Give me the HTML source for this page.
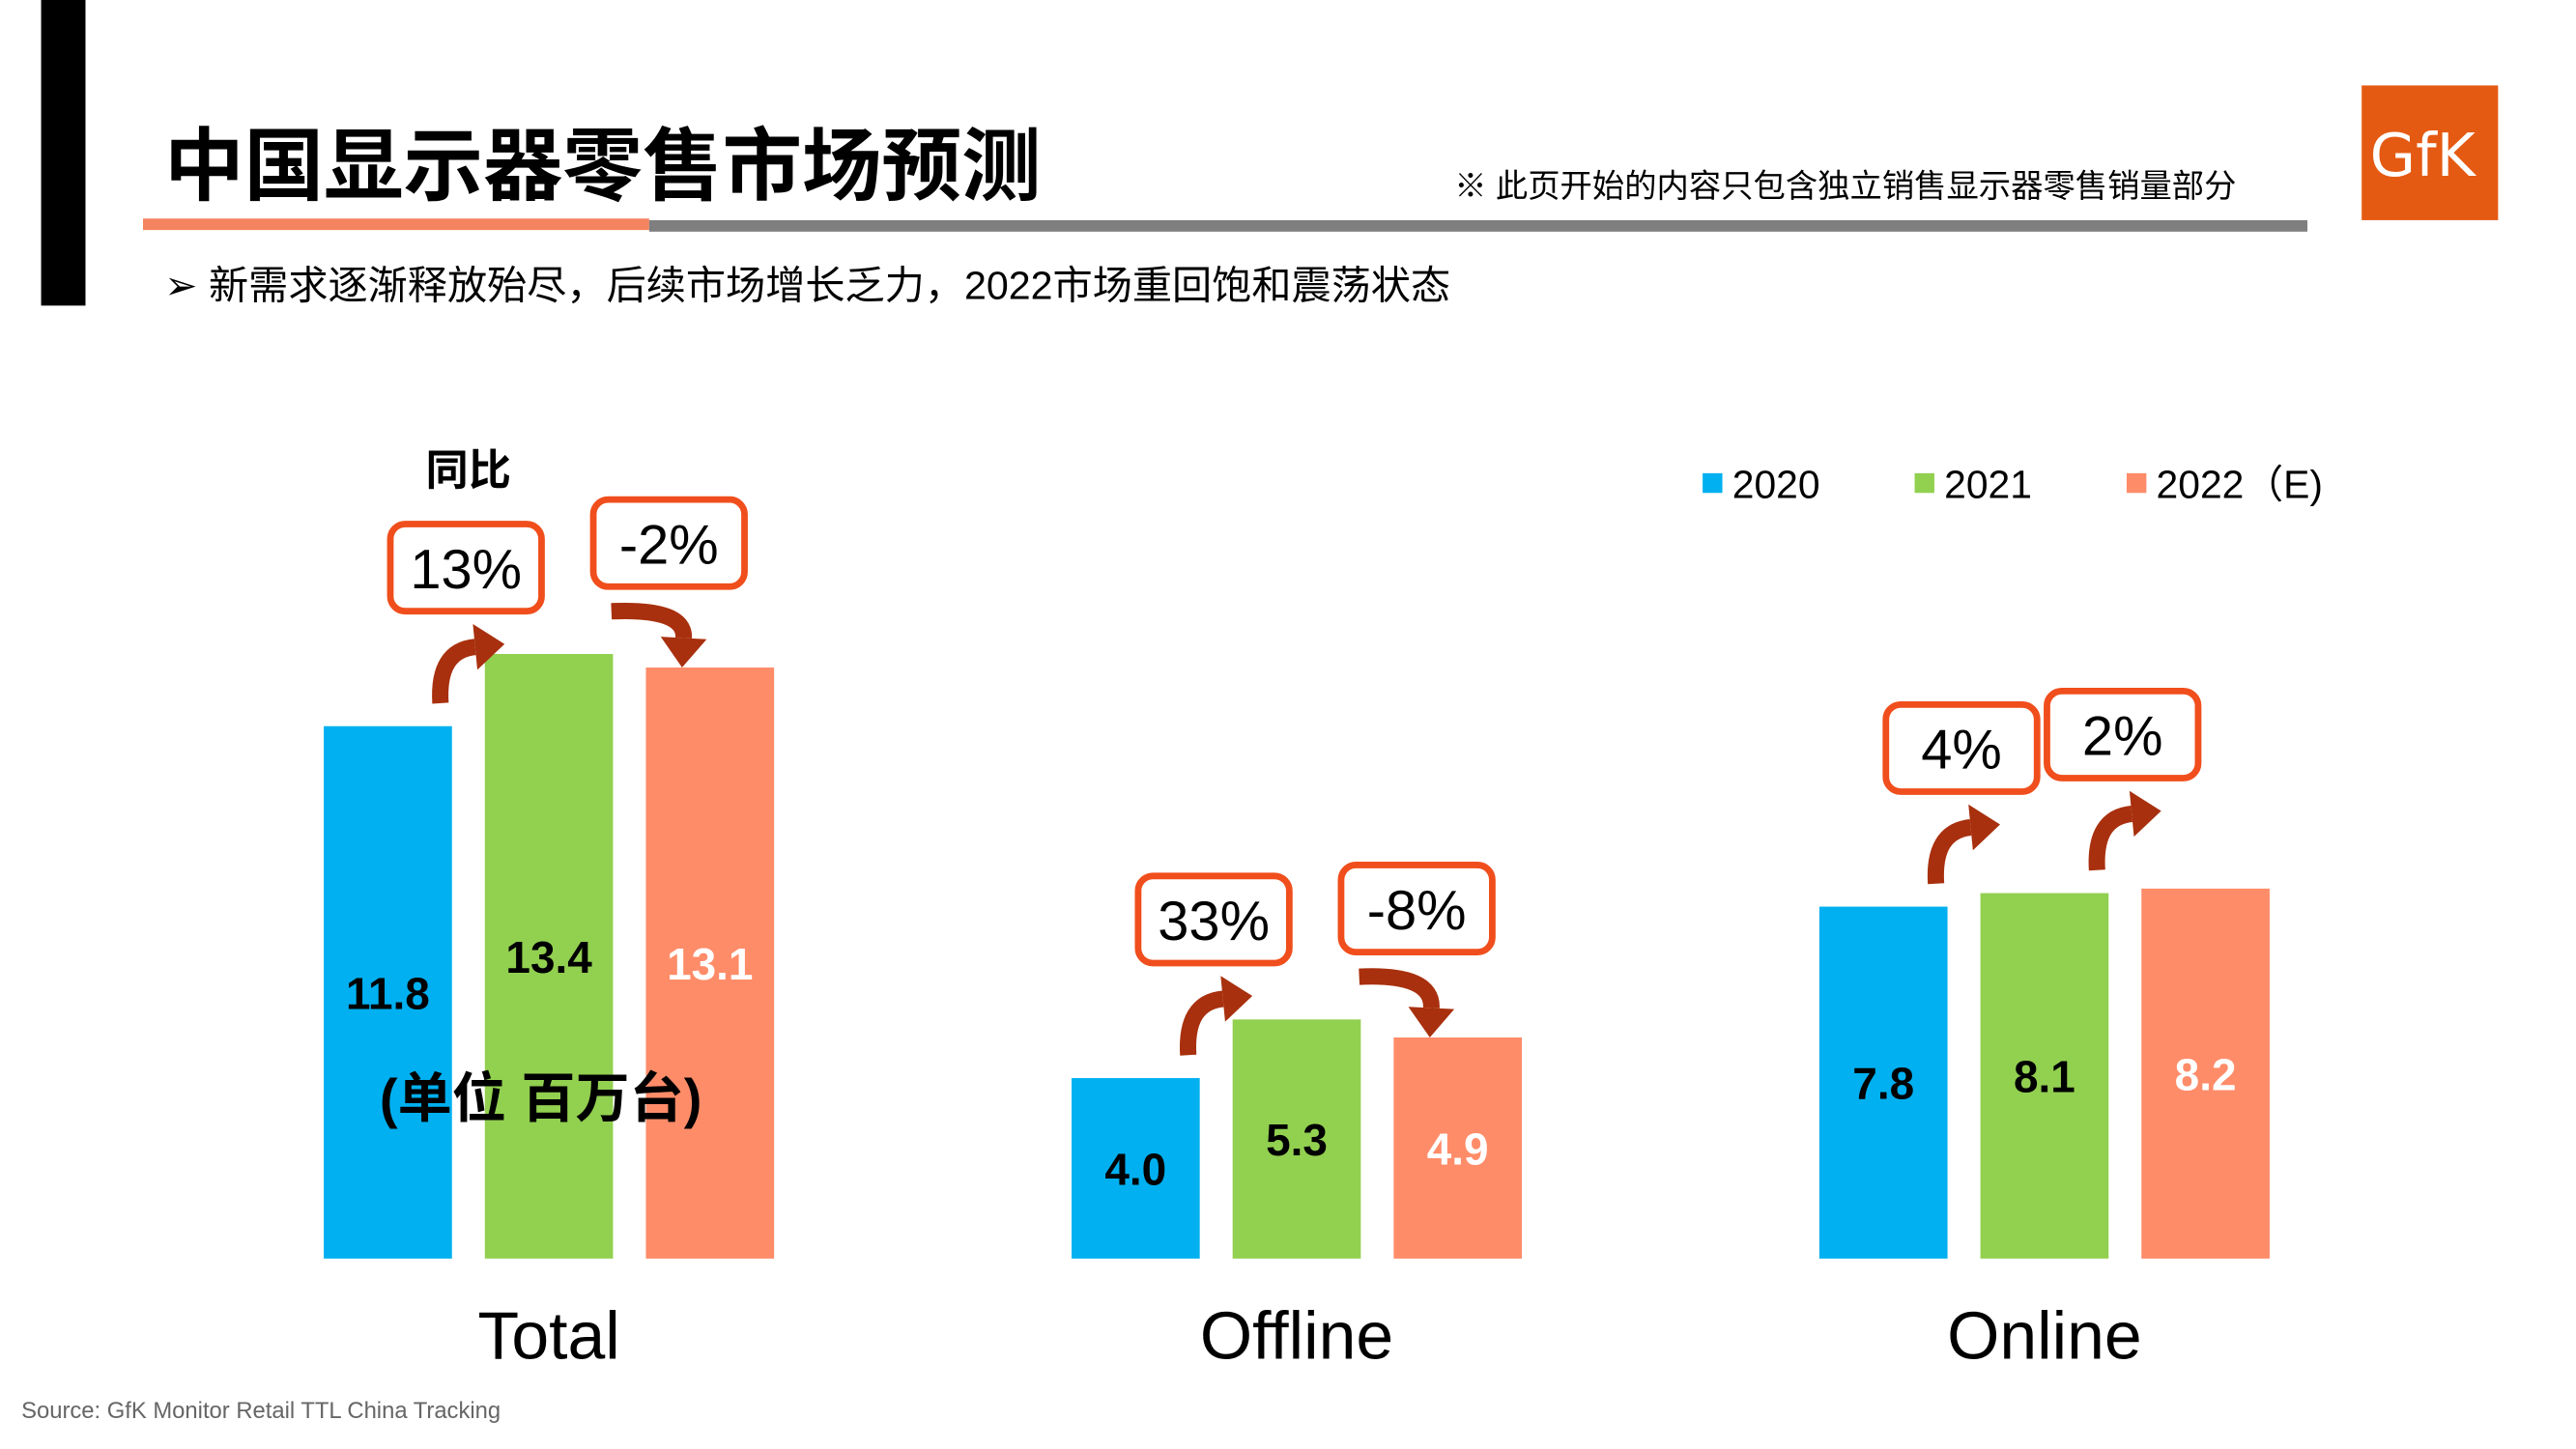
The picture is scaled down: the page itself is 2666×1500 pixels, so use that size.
<!DOCTYPE html>
<html><head><meta charset="utf-8"><style>
html,body{margin:0;padding:0;background:#fff;}
svg{display:block;font-family:"Liberation Sans","Noto Sans CJK SC",sans-serif;}
</style></head><body>
<svg id="chart" width="2666" height="1500" viewBox="0 0 1567.4 881.9" xmlns="http://www.w3.org/2000/svg">
<rect x="25" y="0" width="27" height="186" fill="#000"/>
<text x="100" y="118" font-size="48.5" font-weight="bold" fill="#000" font-family="'Noto Sans CJK SC',sans-serif">中国显示器零售市场预测</text>
<rect x="87" y="133" width="308" height="7" fill="#f4845f"/>
<rect x="395" y="134" width="1009" height="7" fill="#7f7f7f"/>
<text x="885" y="120" font-size="19.6" fill="#000">※ 此页开始的内容只包含独立销售显示器零售销量部分</text>
<g>
<rect x="1437" y="52" width="83" height="82" fill="#e55a12"/>
<text x="1442" y="107" font-size="36" fill="#fff" font-family="'DejaVu Sans',sans-serif">GfK</text>
</g>
<text x="100" y="182" font-size="24.2" fill="#000">➢  新需求逐渐释放殆尽，后续市场增长乏力，2022市场重回饱和震荡状态</text>
<text x="259" y="295" font-size="26" font-weight="bold" fill="#000">同比</text>
<text x="13" y="863" font-size="14" fill="#666">Source: GfK Monitor Retail TTL China Tracking</text>
<g id="legend"></g>
<g id="bars"></g>
<g id="callouts"></g>
<text x="231" y="680" font-size="33" font-weight="bold" fill="#000">(单位 百万台)</text>
</svg>
<script>
const categories = ["Total", "Offline", "Online"];
const years = ["2020", "2021", "2022（E)"];
const values2020 = [11.8, 4.0, 7.8];
const values2021 = [13.4, 5.3, 8.1];
const values2022 = [13.1, 4.9, 8.2];
const yoy2021 = ["13%", "33%", "4%"];
const yoy2022 = ["-2%", "-8%", "2%"];

const series = [values2020, values2021, values2022];
const colors = ["#00b0f0", "#92d050", "#ff8c69"];
const labelColors = ["#000", "#000", "#fff"];
const NS = "http://www.w3.org/2000/svg";
const baseY = 766, unit = 27.46, barW = 78, barStep = 98;
const groupX = i => 197 + i * 455;
const y = v => baseY - v * unit;
function mk(tag, attrs, parent) {
  const e = document.createElementNS(NS, tag);
  for (const k in attrs) e.setAttribute(k, attrs[k]);
  parent.appendChild(e);
  return e;
}
const gBars = document.getElementById("bars");
const gCall = document.getElementById("callouts");
const gLeg = document.getElementById("legend");

const legX = [1036, 1165, 1294];
years.forEach((yr, i) => {
  const r = mk("rect", {x: legX[i], y: 288, width: 12, height: 12, fill: colors[i]}, gLeg);
  
  
  const t = mk("text", {x: legX[i] + 18, y: 303, "font-size": 24, fill: "#000"}, gLeg);
  t.textContent = yr;
  
  
});

function arrow(x1, y1, x2, y2, up, name) {
  const cx = up ? x1 - 2 : x2 + 2;
  const cy = up ? y2 + 4 : y1 - 2;
  const dx = x2 - cx, dy = y2 - cy, L = Math.hypot(dx, dy);
  const ux = dx / L, uy = dy / L;
  const hl = 18, hw = 14;
  const bx = x2 - ux * hl, by = y2 - uy * hl;
  const p = mk("path", {d: `M${x1},${y1} Q${cx},${cy} ${bx},${by}`, fill: "none", stroke: "#a8300e", "stroke-width": 10}, gCall);
  
  
  const h = mk("polygon", {points: `${x2},${y2} ${bx - uy * hw},${by + ux * hw} ${bx + uy * hw},${by - ux * hw}`, fill: "#a8300e"}, gCall);
  
  
}
function box(cx, bottom, txt, name) {
  const w = 92, h = 53;
  const r = mk("rect", {x: cx - w / 2, y: bottom - h, width: w, height: h, rx: 9, fill: "#fff", stroke: "#f04e1c", "stroke-width": 4}, gCall);
  
  
  const t = mk("text", {x: cx, y: bottom - 14, "font-size": 34, "text-anchor": "middle", fill: "#000"}, gCall);
  t.textContent = txt;
  
  
}

categories.forEach((cat, g) => {
  series.forEach((vals, s) => {
    const x = groupX(g) + s * barStep, top = y(vals[g]);
    const r = mk("rect", {x: x, y: top, width: barW, height: baseY - top, fill: colors[s]}, gBars);
    
    
    const t = mk("text", {x: x + barW / 2, y: (top + baseY) / 2 + 10, "font-size": 27, "font-weight": "bold", "text-anchor": "middle", fill: labelColors[s]}, gBars);
    t.textContent = vals[g].toFixed(1);
    
    
  });
  const ct = mk("text", {x: groupX(g) + 137, y: 827, "font-size": 41, "text-anchor": "middle", fill: "#000"}, gBars);
  ct.textContent = cat;
  
  

  [[0, 1, yoy2021], [1, 2, yoy2022]].forEach(([a, b, arr]) => {
    const xa = groupX(g) + a * barStep, xb = groupX(g) + b * barStep;
    const ta = y(series[a][g]), tb = y(series[b][g]);
    const up = series[b][g] >= series[a][g];
    let x1, y1, x2, y2, bcx, bb;
    if (up) {
      x1 = xa + barW - 7; y1 = ta - 14; x2 = xb + 12; y2 = y1 - 36;
      bcx = (x1 + x2) / 2 - 4; bb = y2 - 20;
    } else {
      x1 = xa + barW - 1; y1 = ta - 26; x2 = xb + 22; y2 = tb;
      bcx = x2 - 8; bb = y1 - 15;
    }
    const name = 'yoy-' + cat.toLowerCase() + '-' + b;
    arrow(x1, y1, x2, y2, up, name);
    box(bcx, bb, arr[g], name);
  });
});
</script>
</body></html>
